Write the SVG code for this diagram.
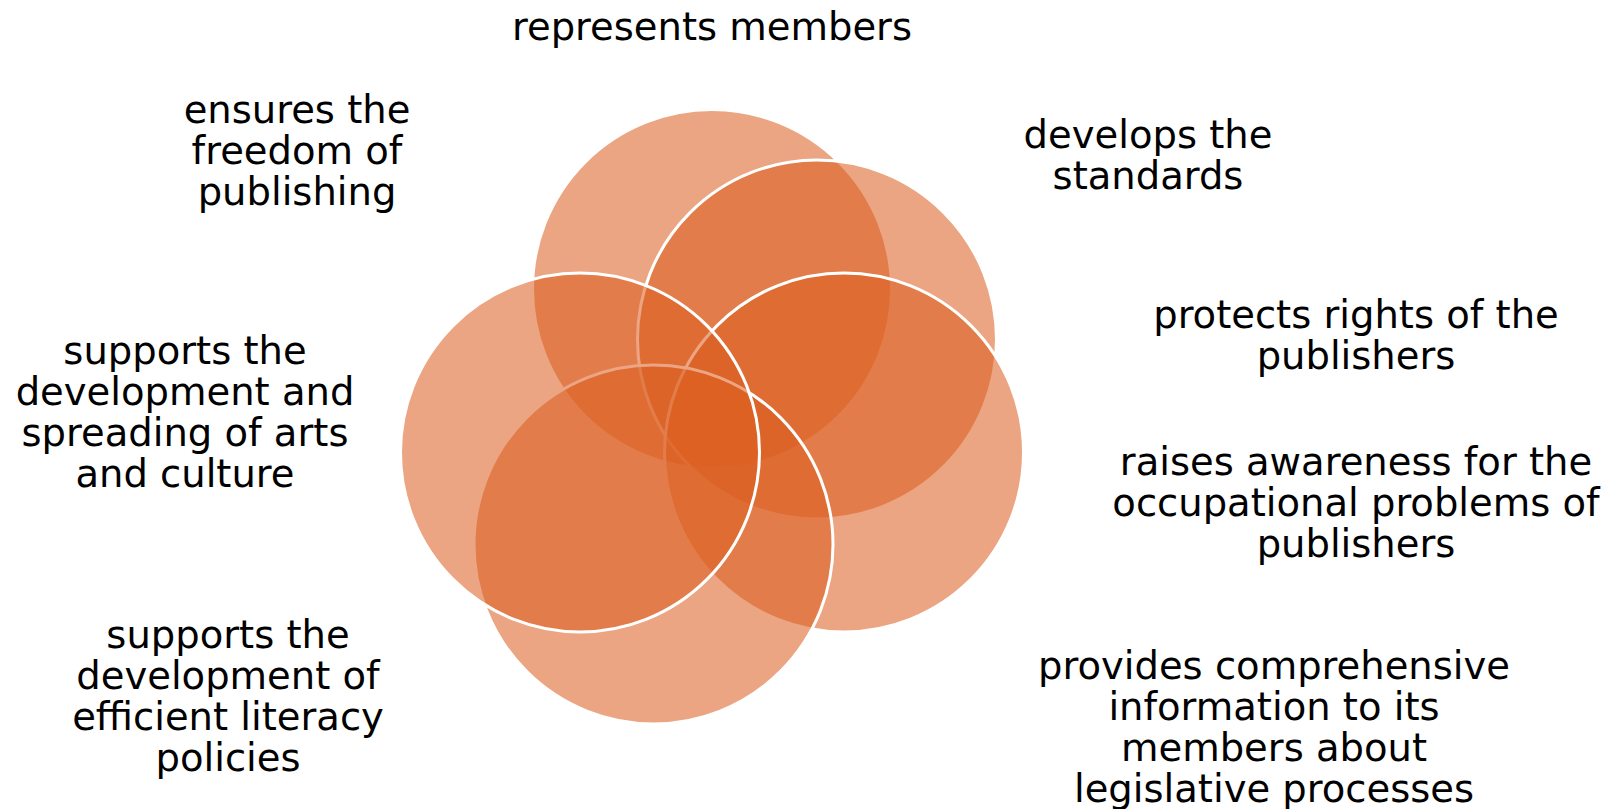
<svg xmlns="http://www.w3.org/2000/svg" width="1608" height="809" viewBox="0 0 1608 809">
<style>
.c{fill:#DC5F20;fill-opacity:0.56;stroke:#FFFFFF;stroke-width:3}
.t{font-family:"DejaVu Sans","Verdana",sans-serif;font-size:38.5px;fill:#000000;text-anchor:middle}
</style>
<rect width="1608" height="809" fill="#FFFFFF"/>
<g id="circles">
<circle id="c-top" class="c" cx="712" cy="289" r="179.5"/>
<circle id="c-upper-right" class="c" cx="817" cy="339.5" r="179.5"/>
<circle id="c-right" class="c" cx="844" cy="452.5" r="179.5"/>
<circle id="c-bottom" class="c" cx="653.5" cy="544.5" r="179.5"/>
<circle id="c-left" class="c" cx="580" cy="452.5" r="179.5"/>
</g>
<g id="connectors"></g>
<g id="label-represents"><text class="t" x="712" y="40">represents members</text></g>
<g id="label-ensures"><text class="t" x="297" y="123"><tspan x="297">ensures the</tspan><tspan x="297" dy="41">freedom of</tspan><tspan x="297" dy="41">publishing</tspan></text></g>
<g id="label-develops"><text class="t" x="1148" y="148"><tspan x="1148">develops the</tspan><tspan x="1148" dy="41">standards</tspan></text></g>
<g id="label-protects"><text class="t" x="1356" y="328"><tspan x="1356">protects rights of the</tspan><tspan x="1356" dy="41">publishers</tspan></text></g>
<g id="label-raises"><text class="t" x="1356" y="475"><tspan x="1356">raises awareness for the</tspan><tspan x="1356" dy="41">occupational problems of</tspan><tspan x="1356" dy="41">publishers</tspan></text></g>
<g id="label-provides"><text class="t" x="1274" y="679"><tspan x="1274">provides comprehensive</tspan><tspan x="1274" dy="41">information to its</tspan><tspan x="1274" dy="41">members about</tspan><tspan x="1274" dy="41">legislative processes</tspan></text></g>
<g id="label-literacy"><text class="t" x="228" y="648"><tspan x="228">supports the</tspan><tspan x="228" dy="41">development of</tspan><tspan x="228" dy="41">efficient literacy</tspan><tspan x="228" dy="41">policies</tspan></text></g>
<g id="label-arts"><text class="t" x="185" y="364"><tspan x="185">supports the</tspan><tspan x="185" dy="41">development and</tspan><tspan x="185" dy="41">spreading of arts</tspan><tspan x="185" dy="41">and culture</tspan></text></g>
</svg>
